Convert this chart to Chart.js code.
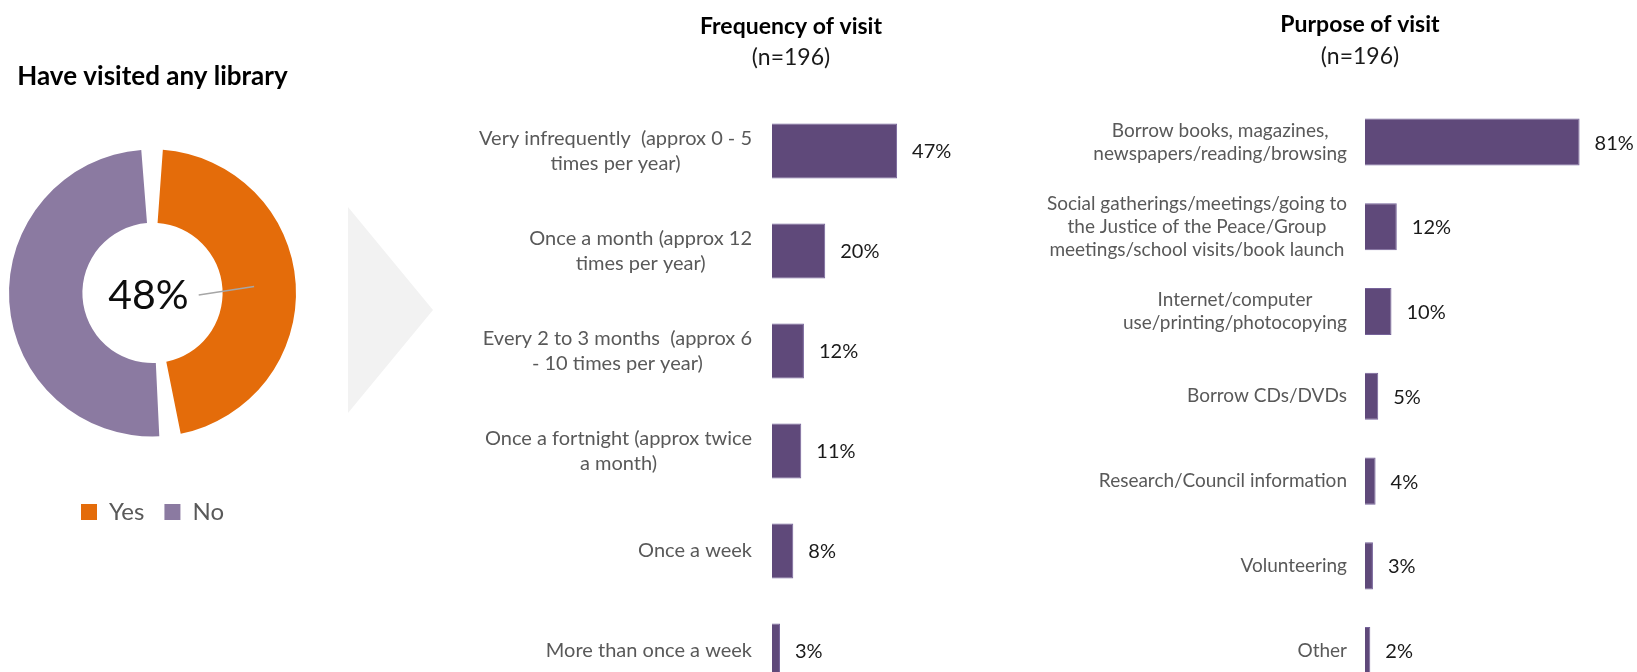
<!DOCTYPE html>
<html>
<head>
<meta charset="utf-8">
<script src="https://cdn.jsdelivr.net/npm/chart.js@4.4.0/dist/chart.umd.min.js"></script>
<style>
  html, body { margin: 0; padding: 0; background: #fff; width: 1637px; height: 672px; overflow: hidden; position: relative; }
  .box { position: absolute; top: 0; }
  #arrow { position: absolute; left: 348px; top: 207px; width: 85px; height: 206px; background: #f2f2f2; clip-path: polygon(0 0, 100% 50%, 0 100%); }
</style>
</head>
<body>
<div class="box" style="left:0;width:305px;height:534px"><canvas id="chart-visited"></canvas></div>
<div id="arrow"></div>
<div class="box" style="left:440px;width:702px;height:712px"><canvas id="chart-frequency"></canvas></div>
<div class="box" style="left:1040px;width:640px;height:712px"><canvas id="chart-purpose"></canvas></div>

<script>
// ── Data ─────────────────────────────────────────────────────────────────────
const visitedLabels = ['Yes', 'No']
const visitedValues = [48, 52]

const frequencyLabels = [
  ['Very infrequently  (approx 0 - 5', 'times per year)'],
  ['Once a month (approx 12', 'times per year)'],
  ['Every 2 to 3 months  (approx 6', '- 10 times per year)'],
  ['Once a fortnight (approx twice', 'a month)'],
  'Once a week',
  'More than once a week',
]
const frequencyValues = [47, 20, 12, 11, 8, 3]

const purposeLabels = [
  ['Borrow books, magazines,', 'newspapers/reading/browsing'],
  ['Social gatherings/meetings/going to', 'the Justice of the Peace/Group', 'meetings/school visits/book launch'],
  ['Internet/computer', 'use/printing/photocopying'],
  'Borrow CDs/DVDs',
  'Research/Council information',
  'Volunteering',
  'Other',
]
const purposeValues = [81, 12, 10, 5, 4, 3, 2]

const FONT = 'Lato'
const orange = '#e46c0a'
const lilac  = '#8b7aa1'
const plum   = '#5f497a'

Chart.defaults.font.family = FONT

// ── Plugins ──────────────────────────────────────────────────────────────────
// Category names: block right-aligned to the axis, wrapped lines centred
const categoryLabels = {
  id: 'categoryLabels',
  afterDraw(chart, args, opts) {
    const { ctx, scales: { y } } = chart
    ctx.save()
    ctx.font = `${opts.size}px ${FONT}`
    ctx.fillStyle = '#595959'
    ctx.textAlign = 'center'
    ctx.textBaseline = 'middle'
    chart.data.labels.forEach((label, i) => {
      const lines = [].concat(label)
      const w = Math.max(...lines.map(l => ctx.measureText(l).width))
      const cx = y.right - opts.gap - w / 2
      const cy = y.getPixelForValue(i)
      lines.forEach((line, j) => {
        ctx.fillText(line, cx, cy + (j - (lines.length - 1) / 2) * opts.lineHeight)
      })
    })
    ctx.restore()
  },
}

// Percent value just past the end of each bar
const valueLabels = {
  id: 'valueLabels',
  afterDatasetsDraw(chart, args, opts) {
    const { ctx } = chart
    const values = chart.data.datasets[0].data
    ctx.save()
    ctx.font = `${opts.size}px ${FONT}`
    ctx.fillStyle = '#1a1a1a'
    ctx.textAlign = 'left'
    ctx.textBaseline = 'middle'
    chart.getDatasetMeta(0).data.forEach((bar, i) => {
      ctx.fillText(values[i] + '%', bar.x + opts.gap, bar.y + 1)
    })
    ctx.restore()
  },
}

// Big "48%" in the hole with a leader line into the Yes slice
const centerLabel = {
  id: 'centerLabel',
  afterDatasetsDraw(chart) {
    const { ctx } = chart
    const arc = chart.getDatasetMeta(0).data[0]
    const { x, y, startAngle, endAngle, innerRadius, outerRadius } = arc
    const mid = (startAngle + endAngle) / 2
    const r = (innerRadius + outerRadius) / 2
    const text = chart.data.datasets[0].data[0] + '%'
    const tx = x - 4
    const ty = y + 3
    ctx.save()
    ctx.font = `41px ${FONT}`
    ctx.fillStyle = '#0d0d0d'
    ctx.textAlign = 'center'
    ctx.textBaseline = 'middle'
    ctx.fillText(text, tx, ty)
    const w = ctx.measureText(text).width
    ctx.strokeStyle = '#a6a6a6'
    ctx.lineWidth = 1.5
    ctx.beginPath()
    ctx.moveTo(tx + w / 2 + 10, ty - 1)
    ctx.lineTo(x + Math.cos(mid) * r, y + Math.sin(mid) * r)
    ctx.stroke()
    ctx.restore()
  },
}

// ── Doughnut ─────────────────────────────────────────────────────────────────
new Chart(document.getElementById('chart-visited'), {
  type: 'doughnut',
  data: {
    labels: visitedLabels,
    datasets: [{
      data: visitedValues,
      backgroundColor: [orange, lilac],
      borderWidth: 0,
      spacing: 10,
    }],
  },
  options: {
    responsive: true,
    maintainAspectRatio: false,
    animation: false,
    cutout: '47%',
    layout: { padding: { left: 9, right: 9 } },
    plugins: {
      title: {
        display: true,
        text: 'Have visited any library',
        color: '#000',
        font: { size: 26, weight: 'bold' },
        padding: { top: 61.4, bottom: 13.4 },
      },
      legend: {
        position: 'bottom',
        labels: { boxWidth: 16, boxHeight: 16, padding: 20, color: '#595959', font: { size: 24 } },
      },
      tooltip: { enabled: false },
    },
  },
  plugins: [centerLabel],
})

// ── Horizontal bars ──────────────────────────────────────────────────────────
function barChart(id, labels, values, o) {
  return new Chart(document.getElementById(id), {
    type: 'bar',
    data: {
      labels,
      datasets: [{
        data: values,
        backgroundColor: plum,
        borderColor: '#76639a',
        borderWidth: 1,
        barPercentage: o.barPct,
        categoryPercentage: 1,
      }],
    },
    options: {
      indexAxis: 'y',
      responsive: true,
      maintainAspectRatio: false,
      animation: false,
      layout: { padding: { bottom: o.padBottom } },
      plugins: {
        legend: { display: false },
        tooltip: { enabled: false },
        title: {
          display: true,
          text: o.title,
          color: '#000',
          font: { size: 23, weight: 'bold' },
          padding: o.titlePad,
        },
        subtitle: {
          display: true,
          text: '(n=196)',
          color: '#1a1a1a',
          font: { size: 23 },
          padding: o.subPad,
        },
        categoryLabels: { size: o.labelSize, lineHeight: o.lineHeight, gap: o.gap },
        valueLabels: { size: 20, gap: o.valueGap },
      },
      scales: {
        x: { display: false, min: 0, max: o.xMax },
        y: {
          grid: { display: false, drawTicks: false },
          border: { display: false },
          ticks: { display: false },
          afterFit: s => { s.width = o.axisWidth },
        },
      },
    },
    plugins: [categoryLabels, valueLabels],
  })
}

barChart('chart-frequency', frequencyLabels, frequencyValues, {
  title: 'Frequency of visit',
  titlePad: { top: 13.2, bottom: 2 },
  subPad: { top: 1.4, bottom: 29.2 },
  axisWidth: 332,
  xMax: 139,
  padBottom: 11,
  barPct: 0.55,
  labelSize: 20,
  lineHeight: 25,
  gap: 20,
  valueGap: 15,
})

barChart('chart-purpose', purposeLabels, purposeValues, {
  title: 'Purpose of visit',
  titlePad: { top: 11.2, bottom: 2 },
  subPad: { top: 2.4, bottom: 28.9 },
  axisWidth: 325,
  xMax: 118.9,
  padBottom: 19,
  barPct: 0.555,
  labelSize: 19,
  lineHeight: 23,
  gap: 18,
  valueGap: 15,
})
</script>
</body>
</html>
